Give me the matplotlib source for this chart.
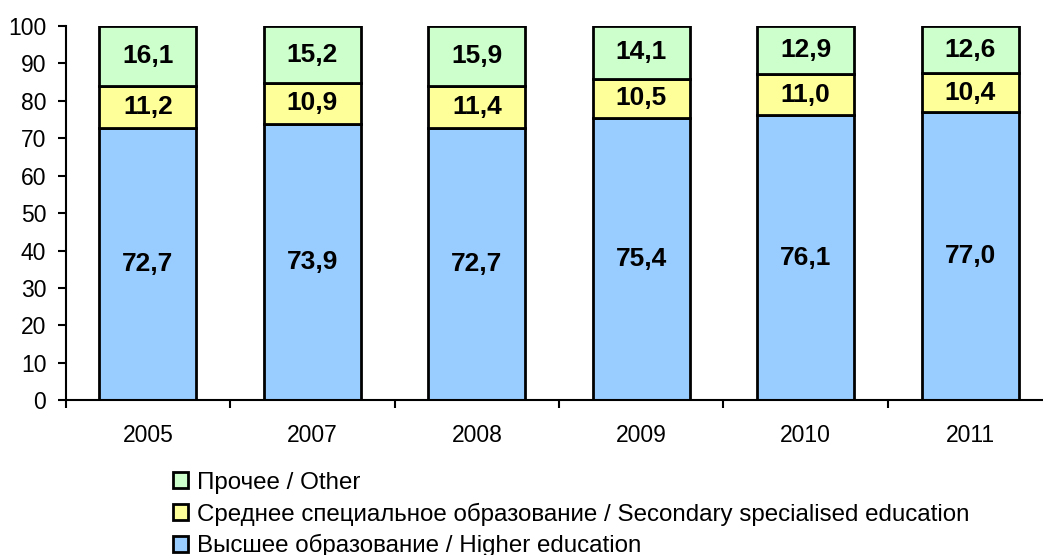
import matplotlib
matplotlib.use('Agg')
import matplotlib.pyplot as plt
import numpy as np

plt.rcParams['font.family'] = ['Liberation Sans', 'DejaVu Sans']

years = ['2005', '2007', '2008', '2009', '2010', '2011']
higher = [72.7, 73.9, 72.7, 75.4, 76.1, 77.0]
secondary = [11.2, 10.9, 11.4, 10.5, 11.0, 10.4]
other = [16.1, 15.2, 15.9, 14.1, 12.9, 12.6]

labels = ['Высшее образование / Higher education',
          'Среднее специальное образование / Secondary specialised education',
          'Прочее / Other']
colors = ['#99CCFF', '#FFFF99', '#CCFFCC']

fig = plt.figure(figsize=(10.43, 5.55), dpi=100)
ax = fig.add_axes([0.063, 0.279, 0.946, 0.674])

x = np.arange(len(years))
w = 0.59
bottom = np.zeros(len(years))
handles = []
for vals, col, lab in zip([higher, secondary, other], colors, labels):
    vals = np.array(vals)
    b = ax.bar(x, vals, w, bottom=bottom, color=col, edgecolor='black',
               linewidth=2, label=lab)
    handles.append(b)
    for xi, v, bt in zip(x, vals, bottom):
        ax.text(xi, bt + v / 2, f'{v:.1f}'.replace('.', ','), ha='center',
                va='center', fontsize=19, fontweight='bold')
    bottom += vals

ax.set_ylim(0, 100)
ax.set_xlim(-0.5, 5.5)
ax.set_yticks(range(0, 101, 10))
ax.set_xticks(x)
ax.set_xticklabels(years)
ax.set_xticks(np.arange(-0.5, 6, 1), minor=True)
ax.tick_params(axis='x', which='major', length=0, pad=17, labelsize=16.5)
ax.tick_params(axis='x', which='minor', length=6, width=1.5, direction='out')
ax.tick_params(axis='y', length=6, width=1.5, direction='out', labelsize=16.5, pad=8)
for s in ['top', 'right']:
    ax.spines[s].set_visible(False)
for s in ['left', 'bottom']:
    ax.spines[s].set_linewidth(1.5)

fig.legend(handles[::-1], labels[::-1], loc='upper left',
           bbox_to_anchor=(0.166, 0.150), bbox_transform=fig.transFigure,
           frameon=False, fontsize=17.4, handlelength=0.62, handleheight=0.62,
           handletextpad=0.38, labelspacing=0.36, borderaxespad=0, borderpad=0)
fig.savefig('out.png', dpi=100)
